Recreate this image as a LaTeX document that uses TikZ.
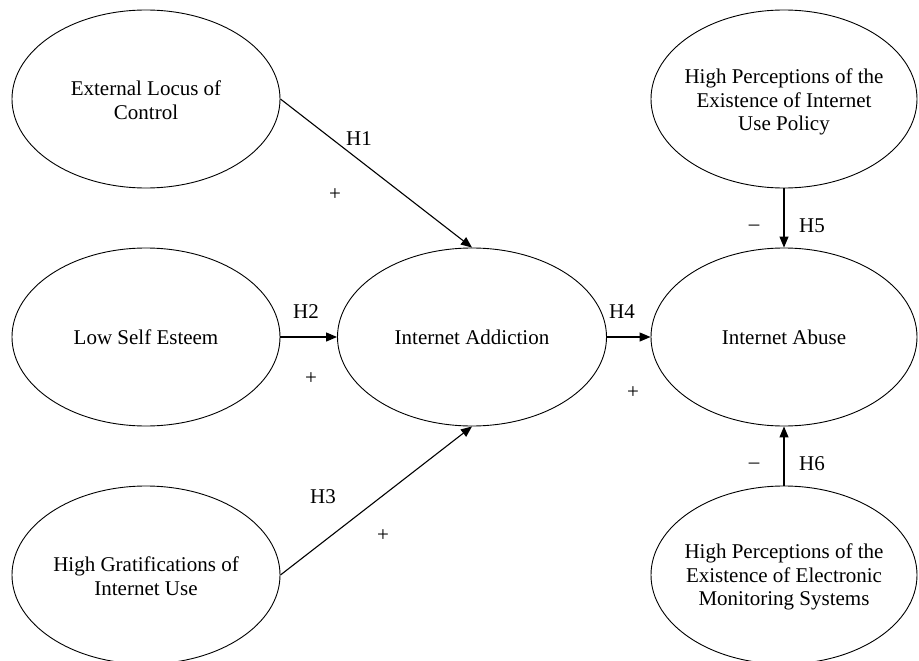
\documentclass[tikz,border=0pt]{standalone}
\usepackage{fontspec}
\setmainfont{Liberation Serif}
\usetikzlibrary{shapes.geometric,arrows.meta}
\begin{document}
\begin{tikzpicture}[x=1pt,y=-1pt,
  ell/.style={draw, ellipse, line width=0.9pt, minimum width=268pt, minimum height=178pt, inner sep=0pt},
  etext/.style={align=center, inner sep=0pt, font=\fontsize{21}{23.8}\selectfont},
  conn/.style={line width=1.1pt, -{Triangle[length=11pt,width=9pt]}},
  lbl/.style={font=\fontsize{21}{23}\selectfont, inner sep=0pt}]
\useasboundingbox (0,0) rectangle (919,661);
\clip (0,0) rectangle (919,661);
\node[ell] (elc) at (146,99) {};
\node[ell] (lse) at (146,337) {};
\node[ell] (hgi) at (146,575) {};
\node[ell, minimum width=269pt] (ia) at (472,337) {};
\node[ell, minimum width=266pt] (iab) at (784,337) {};
\node[ell, minimum width=266pt] (pol) at (784,99) {};
\node[ell, minimum width=266pt] (ems) at (784,575) {};

\node[etext] (telc) at ([yshift=-1pt]elc.center) {External Locus of\\Control};
\node[etext] (tlse) at (lse.center) {Low Self Esteem};
\node[etext] (thgi) at ([yshift=-1pt]hgi.center) {High Gratifications of\\Internet Use};
\node[etext] (tia) at (ia.center) {Internet Addiction};
\node[etext] (tiab) at (iab.center) {Internet Abuse};
\node[etext] (tpol) at ([yshift=-3pt]pol.center) {High Perceptions of the\\Existence of Internet\\Use Policy};
\node[etext] (tems) at ([yshift=-2pt]ems.center) {High Perceptions of the\\Existence of Electronic\\Monitoring Systems};

\draw[conn] (elc.east) -- (ia.north);
\draw[conn] (lse.east) -- (ia.west);
\draw[conn] (hgi.east) -- (ia.south);
\draw[conn] (ia.east) -- (iab.west);
\draw[conn] (pol.south) -- (iab.north);
\draw[conn] (ems.north) -- (iab.south);

\node[lbl] (h1) at (359,139) {H1};
\node[lbl] (p1) at (335,195) {+};
\node[lbl] (h2) at (306,312) {H2};
\node[lbl] (p2) at (311,379) {+};
\node[lbl] (h4) at (622,312) {H4};
\node[lbl] (p4) at (633,393) {+};
\node[lbl] (h3) at (323,497) {H3};
\node[lbl] (p3) at (383,536) {+};
\node[lbl] (m5) at (754,228) {–};
\node[lbl] (h5) at (812,226) {H5};
\node[lbl] (m6) at (754,466) {–};
\node[lbl] (h6) at (812,464) {H6};
\end{tikzpicture}
\end{document}
